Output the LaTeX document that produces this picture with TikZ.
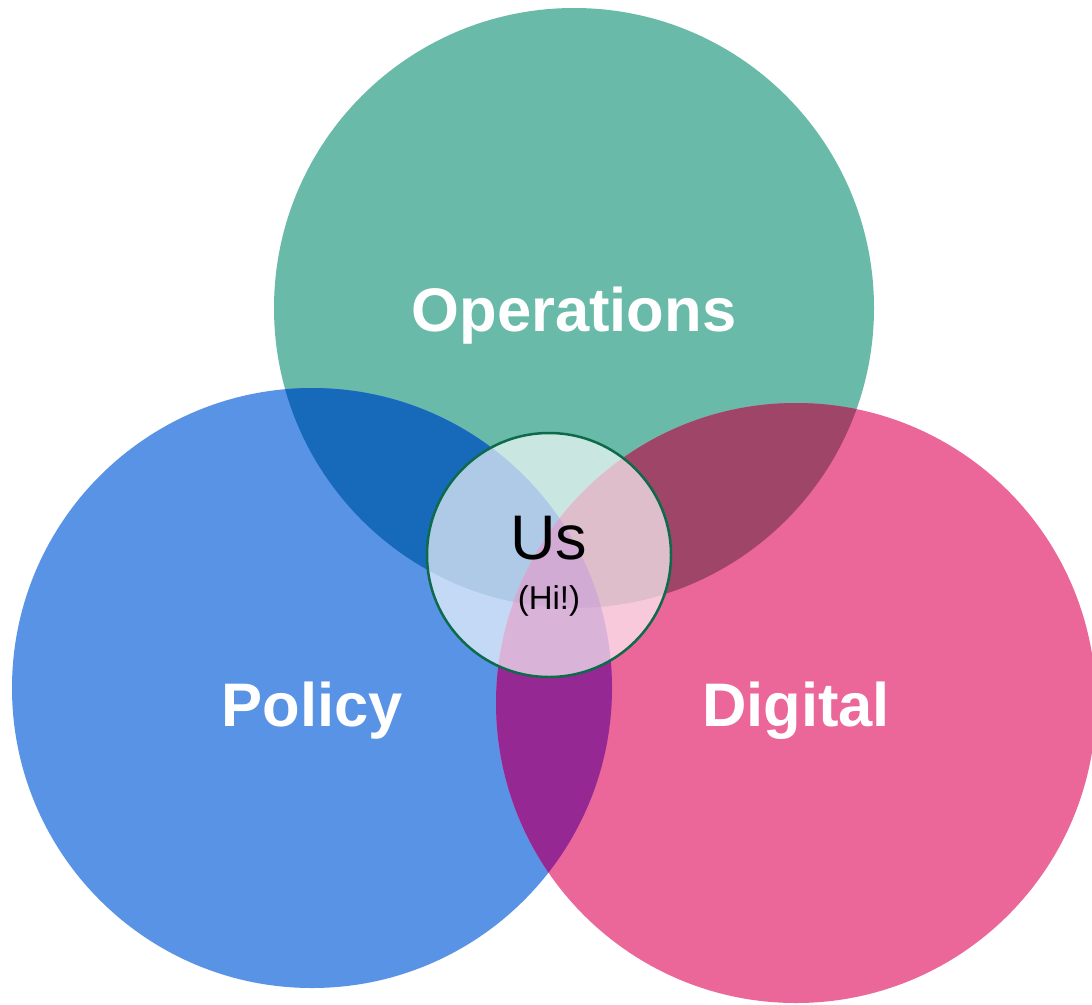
\documentclass[tikz,border=0pt]{standalone}
\usepackage{fontspec}
\setmainfont{Liberation Sans}
\definecolor{opsgreen}{HTML}{69BAA9}
\definecolor{polblue}{HTML}{5893E5}
\definecolor{digpink}{HTML}{EB6699}
\definecolor{gbcol}{HTML}{176ABA}
\definecolor{gpcol}{HTML}{9E4568}
\definecolor{bpcol}{HTML}{962894}
\definecolor{gbpcol}{HTML}{7C0F85}
\definecolor{usborder}{HTML}{0D6B4B}
\begin{document}
\begin{tikzpicture}[x=1pt,y=-1pt,
  lbl/.style={text=white,font=\fontsize{61.5}{72}\selectfont\bfseries,inner sep=0pt,anchor=base},
  rad/.style={radius=300}]
\fill[white] (0,0) rectangle (1092,1004);
\useasboundingbox (0,0) rectangle (1092,1004);
\coordinate (cg) at (574,308);
\coordinate (cb) at (312,688);
\coordinate (cp) at (796,703);
\coordinate (cu) at (549,555);
% base circles
\fill[opsgreen] (cg) circle[rad];
\fill[polblue] (cb) circle[rad];
\fill[digpink] (cp) circle[rad];
% pairwise overlaps
\begin{scope}
  \clip (cg) circle[rad];
  \fill[gbcol] (cb) circle[rad];
  \fill[gpcol] (cp) circle[rad];
\end{scope}
\begin{scope}
  \clip (cb) circle[rad];
  \fill[bpcol] (cp) circle[rad];
  \clip (cp) circle[rad];
  \fill[gbpcol] (cg) circle[rad];
\end{scope}
% centre circle
\fill[white,fill opacity=0.65] (cu) circle[radius=122];
\draw[usborder,line width=2.5pt] (cu) circle[radius=122];
% labels
\node[lbl] (ops) at (574,331) {Operations};
\node[lbl] (pol) at (312,726) {Policy};
\node[lbl] (dig) at (796,726) {Digital};
\node[inner sep=0pt,anchor=base,font=\fontsize{63}{70}\selectfont] (us) at (549,559) {Us};
\node[inner sep=0pt,anchor=base,font=\fontsize{33}{38}\selectfont] (hi) at (549,609) {(Hi!)};
\end{tikzpicture}
\end{document}
